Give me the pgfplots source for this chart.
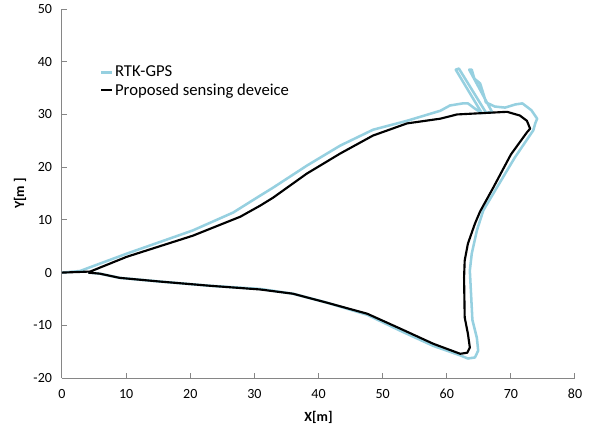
\documentclass[border=0pt]{standalone}
\usepackage{pgfplots}
\pgfplotsset{compat=1.18}
\usepackage{fontspec}
\setmainfont{Carlito}
\usetikzlibrary{calc}
\definecolor{rtk}{RGB}{150,208,224}
\definecolor{axgray}{RGB}{134,134,134}

\begin{document}
\begin{tikzpicture}
\begin{axis}[
    name=ax,
    scale only axis,
    width=384.75pt, height=276.75pt,
    xmin=0, xmax=80, ymin=-20, ymax=50,
    xtick={0,10,...,80}, ytick={-20,-10,...,50},
    axis lines*=left,
    axis line style={axgray, line width=0.75pt},
    tick style={axgray, line width=0.75pt},
    tick align=inside,
    major tick length=3.75pt,
    /pgf/number format/assume math mode=true,
    ticklabel style={font=\fontsize{10.5}{12}\selectfont},
    xticklabel style={yshift=-5pt},
    yticklabel style={xshift=-4pt},
    xlabel={X[m]}, ylabel={Y[m ]},
    label style={font=\fontsize{10.5}{12}\selectfont\bfseries},
    x label style={at={(axis description cs:0.5,-0.108)}, anchor=center},
    y label style={at={(axis description cs:-0.082,0.5)}, anchor=center},
    legend style={draw=none, fill=none, at={(0.074,0.85)}, anchor=north west,
      font=\fontsize{12.5}{14}\selectfont, row sep=1.5pt, inner sep=0pt,
      nodes={inner sep=1pt}},
    legend cell align=left,
    legend image code/.code={\draw[#1] (0pt,0pt) -- (8.25pt,0pt);},
  ]
  \addplot[rtk, line width=1.9pt, line join=round] coordinates {
    (0,0) (2.8,0.3) (10.1,3.6) (20.4,8.0) (26.7,11.4) (30.9,14.6)
    (32.9,16.1) (38.2,20.3) (43.4,24.1) (48.5,27.1) (53.8,28.8)
    (59.0,30.7) (60.5,31.7) (62.5,32.1) (63.3,32.1) (64.4,31.1)
    (65.5,30.2) (61.4,38.5) (61.9,38.7) (66.1,30.4) (67.1,30.4)
    (63.5,38.5) (63.9,38.5) (64.3,36.8) (65.2,35.9) (65.8,33.6)
    (66.1,32.3) (67.5,31.5) (69.1,31.3) (70.7,31.9) (71.8,32.1)
    (73.2,30.8) (74.1,29.2) (73.8,28.3) (73.5,27.0) (70.6,21.8)
    (67.8,16.1) (65.7,11.8) (64.7,8.0) (63.9,3.6) (63.6,0.4)
    (64.0,-9.0) (64.7,-12.4) (64.9,-14.8) (64.4,-16.1) (63.3,-16.3)
    (62.1,-15.7) (57.9,-13.9) (52.7,-11.0) (47.6,-8.0) (41.3,-5.7)
    (36.0,-4.0) (30.9,-3.1) (23.1,-2.5) (15.3,-1.7) (9.0,-1.0)
    (5.9,-0.2) (4.1,0)
  };
  \addlegendentry{RTK-GPS}
  \addplot[black, line width=1.6pt, line join=round] coordinates {
    (0,0) (4.4,0.2) (10.1,3.0) (20.4,7.0) (27.8,10.6) (30.9,12.7)
    (32.9,14.2) (38.2,18.8) (43.4,22.6) (48.5,26.0) (53.8,28.3)
    (59.0,29.2) (61.6,30.0) (69.4,30.5) (71.4,29.8) (72.5,28.8)
    (73.0,27.3) (72.5,26.6) (70.0,22.4) (67.2,16.0) (65.2,11.6)
    (64.4,9.3) (63.3,5.5) (62.8,2.3) (62.7,-1.0) (62.8,-8.5)
    (63.3,-11.6) (63.6,-14.2) (63.2,-15.2) (62.1,-15.4) (57.9,-13.5)
    (52.7,-10.6) (47.6,-7.8) (41.3,-5.7) (36.0,-4.0) (30.9,-3.2)
    (23.1,-2.5) (15.3,-1.7) (9.0,-1.0) (5.9,-0.2) (4.1,0)
  };
  \addlegendentry{Proposed sensing deveice}
\end{axis}
\path ($(ax.south west)+(-46.5pt,-43.5pt)$) rectangle ($(ax.north east)+(17.25pt,6.75pt)$);
\end{tikzpicture}
\end{document}
